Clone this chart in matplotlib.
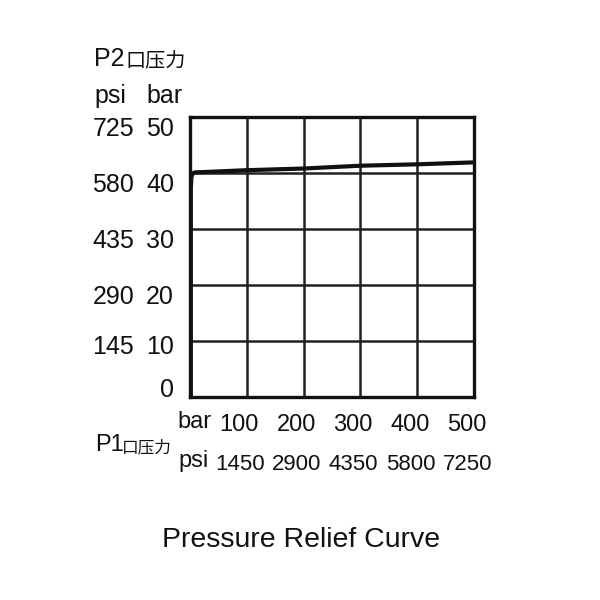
import matplotlib
matplotlib.use("Agg")
import matplotlib.pyplot as plt
from matplotlib.transforms import blended_transform_factory

plt.rcParams['font.family'] = ['Liberation Sans', 'Noto Sans CJK SC', 'DejaVu Sans']

# data
p1_bar = [1.5, 1.5, 2.5, 4.5, 8, 100, 200, 300, 400, 500]
p2_bar = [0, 37.5, 39.3, 39.9, 40.1, 40.5, 40.8, 41.3, 41.55, 41.9]

y_bar_ticks = [0, 10, 20, 30, 40, 50]
y_psi_labels = ['', '145', '290', '435', '580', '725']
x_bar_ticks = [100, 200, 300, 400, 500]
x_psi_labels = ['1450', '2900', '4350', '5800', '7250']

W, H = 600, 600
fig = plt.figure(figsize=(6, 6), dpi=100)
ax = fig.add_axes([190 / W, 1 - 397 / H, 284 / W, 280 / H])

def fx(x):
    return x / W

def fy(y):
    return 1 - y / H

ax.set_xlim(0, 500)
ax.set_ylim(0, 50)
ax.set_xticks(range(0, 501, 100))
ax.set_yticks(y_bar_ticks)
ax.grid(True, color='#222222', lw=1.8)
ax.tick_params(length=0, labelbottom=False, labelleft=False)
for s in ax.spines.values():
    s.set_linewidth(2.4)
    s.set_color('#111111')

ax.plot(p1_bar, p2_bar, color='#111111', lw=3, solid_capstyle='round', zorder=5)

col = '#111111'
fs = 18
# y labels
tr = blended_transform_factory(fig.transFigure, ax.transData)
nudge = {0: 3.4, 10: 1.0}
for v, ps in zip(y_bar_ticks, y_psi_labels):
    yy = v + nudge.get(v, 0)
    ax.text(fx(174), yy, str(v), transform=tr, ha='right', va='top', fontsize=fs, color=col)
    ax.text(fx(134), yy, ps, transform=tr, ha='right', va='top', fontsize=fs, color=col)

# axis titles: latin part and chinese part
fig.text(fx(94), fy(66), 'P2', ha='left', va='baseline', fontsize=fs, color=col)
fig.text(fx(125), fy(67), '口压力', ha='left', va='baseline', fontsize=14.5, color=col)
fig.text(fx(94), fy(96), 'psi', ha='left', va='center', fontsize=fs, color=col)
fig.text(fx(146), fy(96), 'bar', ha='left', va='center', fontsize=fs, color=col)

# x labels
trx = blended_transform_factory(ax.transData, fig.transFigure)
for v, ps in zip(x_bar_ticks, x_psi_labels):
    ax.text(v - 13, fy(425), str(v), transform=trx, ha='center', va='center', fontsize=17, color=col)
    ax.text(v - 12, fy(464), ps, transform=trx, ha='center', va='center', fontsize=16, color=col)

fig.text(fx(177), fy(422), 'bar', ha='left', va='center', fontsize=17, color=col)
fig.text(fx(178), fy(461), 'psi', ha='left', va='center', fontsize=17, color=col)
fig.text(fx(95), fy(451), 'P1', ha='left', va='baseline', fontsize=17, color=col)
fig.text(fx(122), fy(452), '口压力', ha='left', va='baseline', fontsize=12, color=col)

fig.text(fx(301), fy(540), 'Pressure Relief Curve', ha='center', va='center', fontsize=20.5, color=col)

fig.savefig('out.png', dpi=100, facecolor='white')
